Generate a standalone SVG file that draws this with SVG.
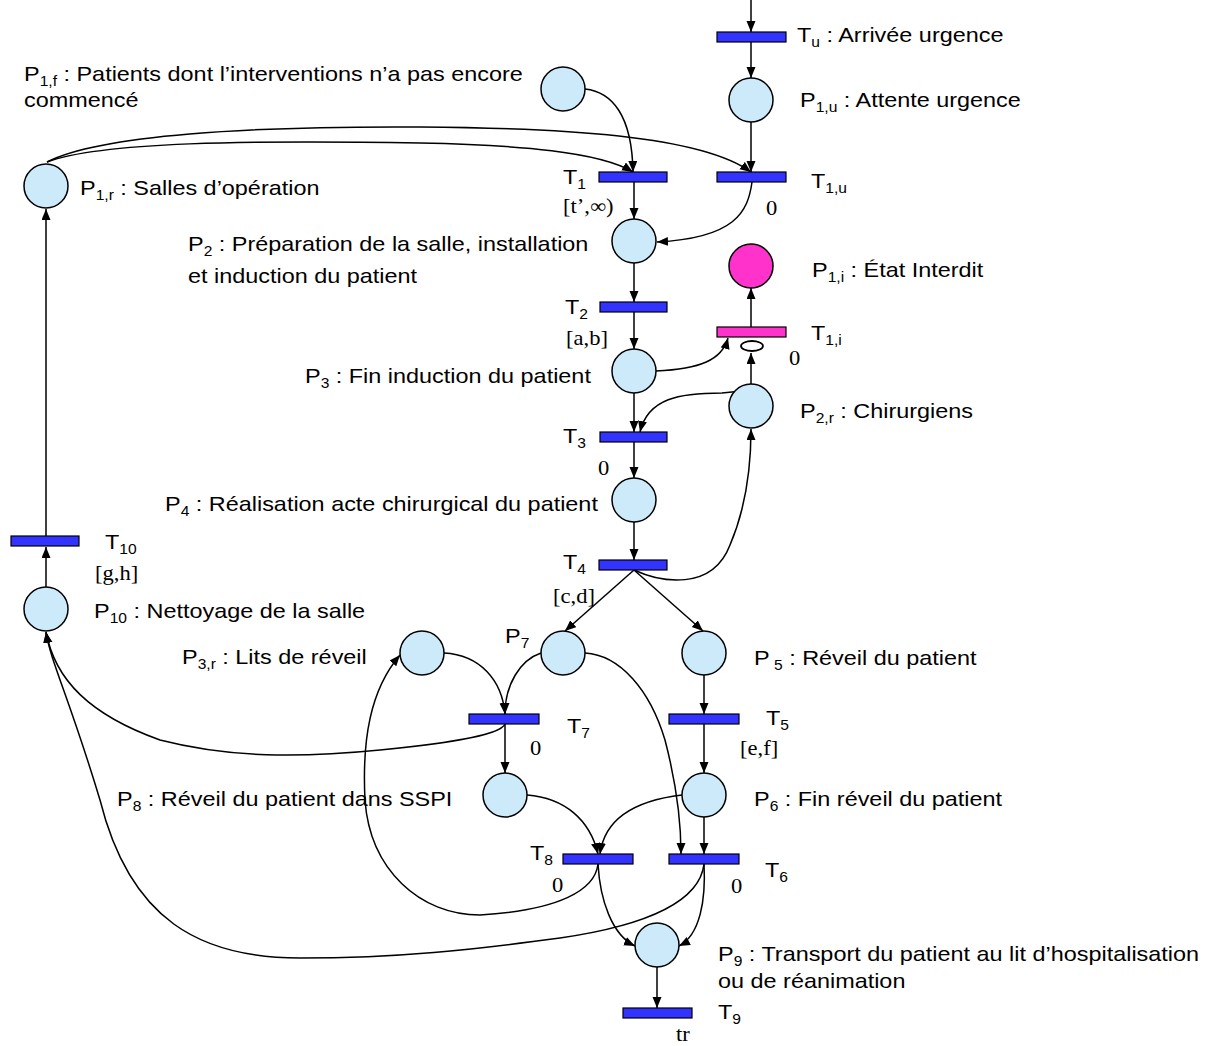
<svg xmlns="http://www.w3.org/2000/svg" width="1210" height="1046" viewBox="0 0 1210 1046">
<defs>
<marker id="ah" markerUnits="userSpaceOnUse" markerWidth="12" markerHeight="10" refX="11" refY="4.5" orient="auto">
<path d="M0,0 L11,4.5 L0,9 z" fill="#000"/>
</marker>
<style>
.pl{fill:#cceaf9;stroke:#000;stroke-width:1.5}
.tr{fill:#3333ff;stroke:#000;stroke-width:1.2}
.trm{fill:#ff33cc;stroke:#000;stroke-width:1.2}
.arc{fill:none;stroke:#000;stroke-width:1.5;marker-end:url(#ah)}
.lb{font-family:"Liberation Sans",Arial,sans-serif;font-size:21px;fill:#000}
.sb{font-size:14px}
.tm{font-family:"Liberation Serif","Times New Roman",serif;font-size:20.5px;fill:#000}
</style>
</defs>
<rect width="1210" height="1046" fill="#fff"/>

<g id="connectors">
<path class="arc" d="M751,0 L751,32"/>
<path class="arc" d="M751,42 L751,78"/>
<path class="arc" d="M751,122 L751,172"/>
<path class="arc" d="M585,89 C612,92 632,115 633,172"/>
<path class="arc" d="M47,162 C100,135 250,126 420,127 C560,128 700,135 751,172"/>
<path class="arc" d="M47,162 C100,142 250,140 420,143 C520,145 600,152 633,172"/>
<path class="arc" d="M634,182 L634,219"/>
<path class="arc" d="M752,182 C748,212 735,238 657,242"/>
<path class="arc" d="M634,263 L634,302"/>
<path class="arc" d="M634,312 L634,349"/>
<path class="arc" d="M656,371 C700,369 722,360 728,338"/>
<path class="arc" d="M751,384 L751,353"/>
<path class="arc" d="M751,327 L751,288"/>
<path class="arc" d="M742,391 L722,393 C680,393 648,398 640,432"/>
<path class="arc" d="M634,393 L634,432"/>
<path class="arc" d="M634,442 L634,478"/>
<path class="arc" d="M634,522 L634,560"/>
<path class="arc" d="M634,570 C660,582 712,592 730,545 C745,510 751,470 751,429"/>
<path class="arc" d="M634,570 L565,631"/>
<path class="arc" d="M634,570 L703,631"/>
<path class="arc" d="M704,675 L704,714"/>
<path class="arc" d="M704,724 L704,773"/>
<path class="arc" d="M444,653 C480,655 502,680 505,714"/>
<path class="arc" d="M541,653 C520,660 505,685 505,714"/>
<path class="arc" d="M505,724 C500,737 430,745 380,750 C300,758 230,758 160,740 C90,715 55,680 46,632"/>
<path class="arc" d="M505,724 L505,773"/>
<path class="arc" d="M585,653 C620,655 650,690 665,740 C678,790 681,830 681,854"/>
<path class="arc" d="M704,817 L704,854"/>
<path class="arc" d="M682,795 C640,800 605,815 600,854"/>
<path class="arc" d="M527,795 C565,798 590,820 598,854"/>
<path class="arc" d="M598,864 C595,890 560,910 480,915 C420,915 370,870 365,800 C362,740 370,690 400,655"/>
<path class="arc" d="M598,864 C600,900 612,935 635,946"/>
<path class="arc" d="M704,864 C706,900 700,935 679,946"/>
<path class="arc" d="M704,864 C700,900 650,925 560,938 C470,950 400,958 300,958 C200,958 130,920 100,800 C70,700 50,660 46,632"/>
<path class="arc" d="M46,587 L46,547"/>
<path class="arc" d="M46,536 L46,209"/>
<path class="arc" d="M657,967 L657,1008"/>
</g>

<g id="Tu"><rect class="tr" x="717" y="32" width="69" height="10"/>
<text class="lb" transform="translate(797,42) scale(1.115,1)">T<tspan class="sb" dy="5">u</tspan><tspan dy="-5"> : Arrivée urgence</tspan></text></g>
<g id="P1u"><circle class="pl" cx="751" cy="100" r="22"/>
<text class="lb" transform="translate(800,107) scale(1.115,1)">P<tspan class="sb" dy="5">1,u</tspan><tspan dy="-5"> : Attente urgence</tspan></text></g>
<g id="P1f"><circle class="pl" cx="563" cy="89" r="22"/>
<text class="lb" transform="translate(24,81) scale(1.115,1)">P<tspan class="sb" dy="5">1,f</tspan><tspan dy="-5"> : Patients dont l’interventions n’a pas encore</tspan></text>
<text class="lb" transform="translate(24,107) scale(1.115,1)">commencé</text></g>
<g id="P1r"><circle class="pl" cx="46" cy="186" r="22"/>
<text class="lb" transform="translate(80,195) scale(1.115,1)">P<tspan class="sb" dy="5">1,r</tspan><tspan dy="-5"> : Salles d’opération</tspan></text></g>
<g id="T1"><rect class="tr" x="599" y="172" width="68" height="10"/>
<text class="lb" transform="translate(563,184) scale(1.115,1)">T<tspan class="sb" dy="5">1</tspan></text>
<text class="tm" transform="translate(563,213) scale(1.1,1)">[t’,∞)</text></g>
<g id="T1u"><rect class="tr" x="717" y="172" width="69" height="10"/>
<text class="lb" transform="translate(811,188) scale(1.115,1)">T<tspan class="sb" dy="5">1,u</tspan></text>
<text class="tm" transform="translate(766,215) scale(1.1,1)">0</text></g>
<g id="P2"><circle class="pl" cx="634" cy="241" r="22"/>
<text class="lb" transform="translate(188,251) scale(1.115,1)">P<tspan class="sb" dy="5">2</tspan><tspan dy="-5"> : Préparation de la salle, installation</tspan></text>
<text class="lb" transform="translate(188,283) scale(1.115,1)">et induction du patient</text></g>
<g id="P1i"><circle cx="751" cy="266" r="22" fill="#ff33cc" stroke="#000" stroke-width="1.5"/>
<text class="lb" transform="translate(812,277) scale(1.115,1)">P<tspan class="sb" dy="5">1,i</tspan><tspan dy="-5"> : État Interdit</tspan></text></g>
<g id="T2"><rect class="tr" x="600" y="302" width="67" height="10"/>
<text class="lb" transform="translate(565,314) scale(1.115,1)">T<tspan class="sb" dy="5">2</tspan></text>
<text class="tm" transform="translate(566,345) scale(1.1,1)">[a,b]</text></g>
<g id="T1i"><rect class="trm" x="717" y="327" width="69" height="10"/>
<ellipse cx="752" cy="346" rx="11" ry="5" fill="#fff" stroke="#000" stroke-width="1.8"/>
<text class="lb" transform="translate(811,340) scale(1.115,1)">T<tspan class="sb" dy="5">1,i</tspan></text>
<text class="tm" transform="translate(789,365) scale(1.1,1)">0</text></g>
<g id="P3"><circle class="pl" cx="634" cy="371" r="22"/>
<text class="lb" transform="translate(305,383) scale(1.115,1)">P<tspan class="sb" dy="5">3</tspan><tspan dy="-5"> : Fin induction du patient</tspan></text></g>
<g id="P2r"><circle class="pl" cx="751" cy="406" r="22"/>
<text class="lb" transform="translate(800,418) scale(1.115,1)">P<tspan class="sb" dy="5">2,r</tspan><tspan dy="-5"> : Chirurgiens</tspan></text></g>
<g id="T3"><rect class="tr" x="600" y="432" width="67" height="10"/>
<text class="lb" transform="translate(563,443) scale(1.115,1)">T<tspan class="sb" dy="5">3</tspan></text>
<text class="tm" transform="translate(598,475) scale(1.1,1)">0</text></g>
<g id="P4"><circle class="pl" cx="634" cy="500" r="22"/>
<text class="lb" transform="translate(165,511) scale(1.115,1)">P<tspan class="sb" dy="5">4</tspan><tspan dy="-5"> : Réalisation acte chirurgical du patient</tspan></text></g>
<g id="T4"><rect class="tr" x="599" y="560" width="68" height="10"/>
<text class="lb" transform="translate(563,569) scale(1.115,1)">T<tspan class="sb" dy="5">4</tspan></text>
<text class="tm" transform="translate(553,603) scale(1.1,1)">[c,d]</text></g>
<g id="T10"><rect class="tr" x="11" y="536" width="68" height="10"/>
<text class="lb" transform="translate(105,549) scale(1.115,1)">T<tspan class="sb" dy="5">10</tspan></text>
<text class="tm" transform="translate(95,580) scale(1.1,1)">[g,h]</text></g>
<g id="P10"><circle class="pl" cx="46" cy="609" r="22"/>
<text class="lb" transform="translate(94,618) scale(1.115,1)">P<tspan class="sb" dy="5">10</tspan><tspan dy="-5"> : Nettoyage de la salle</tspan></text></g>
<g id="P3r"><circle class="pl" cx="422" cy="653" r="22"/>
<text class="lb" transform="translate(182,664) scale(1.115,1)">P<tspan class="sb" dy="5">3,r</tspan><tspan dy="-5"> : Lits de réveil</tspan></text></g>
<g id="P7"><circle class="pl" cx="563" cy="653" r="22"/>
<text class="lb" transform="translate(505,643) scale(1.115,1)">P<tspan class="sb" dy="5">7</tspan></text></g>
<g id="P5"><circle class="pl" cx="704" cy="653" r="22"/>
<text class="lb" transform="translate(754,665) scale(1.115,1)">P<tspan class="sb" dy="5"> 5</tspan><tspan dy="-5"> : Réveil du patient</tspan></text></g>
<g id="T7"><rect class="tr" x="469" y="714" width="70" height="10"/>
<text class="lb" transform="translate(567,733) scale(1.115,1)">T<tspan class="sb" dy="5">7</tspan></text>
<text class="tm" transform="translate(530,755) scale(1.1,1)">0</text></g>
<g id="T5"><rect class="tr" x="669" y="714" width="70" height="10"/>
<text class="lb" transform="translate(766,725) scale(1.115,1)">T<tspan class="sb" dy="5">5</tspan></text>
<text class="tm" transform="translate(740,755) scale(1.1,1)">[e,f]</text></g>
<g id="P8"><circle class="pl" cx="505" cy="795" r="22"/>
<text class="lb" transform="translate(117,806) scale(1.115,1)">P<tspan class="sb" dy="5">8</tspan><tspan dy="-5"> : Réveil du patient dans SSPI</tspan></text></g>
<g id="P6"><circle class="pl" cx="704" cy="795" r="22"/>
<text class="lb" transform="translate(754,806) scale(1.115,1)">P<tspan class="sb" dy="5">6</tspan><tspan dy="-5"> : Fin réveil du patient</tspan></text></g>
<g id="T8"><rect class="tr" x="563" y="854" width="70" height="10"/>
<text class="lb" transform="translate(530,860) scale(1.115,1)">T<tspan class="sb" dy="5">8</tspan></text>
<text class="tm" transform="translate(552,892) scale(1.1,1)">0</text></g>
<g id="T6"><rect class="tr" x="669" y="854" width="70" height="10"/>
<text class="lb" transform="translate(765,877) scale(1.115,1)">T<tspan class="sb" dy="5">6</tspan></text>
<text class="tm" transform="translate(731,893) scale(1.1,1)">0</text></g>
<g id="P9"><circle class="pl" cx="657" cy="945" r="22"/>
<text class="lb" transform="translate(718,961) scale(1.115,1)">P<tspan class="sb" dy="5">9</tspan><tspan dy="-5"> : Transport du patient au lit d’hospitalisation</tspan></text>
<text class="lb" transform="translate(718,988) scale(1.115,1)">ou de réanimation</text></g>
<g id="T9"><rect class="tr" x="623" y="1008" width="69" height="10"/>
<text class="lb" transform="translate(718,1019) scale(1.115,1)">T<tspan class="sb" dy="5">9</tspan></text>
<text class="tm" transform="translate(676,1041) scale(1.1,1)">tr</text></g>
</svg>
